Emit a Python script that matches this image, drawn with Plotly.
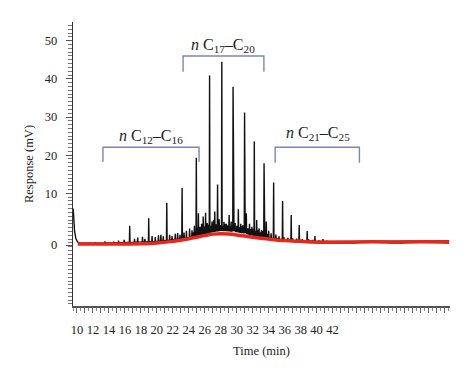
import numpy as np
import plotly.graph_objects as go

# ---------------- data ----------------
# n-alkane peaks (retention time in min, apex response in axis units)
peak_times = [18.98, 21.24, 23.16, 24.94, 26.60, 28.13, 29.54, 30.98, 32.20,
              33.42, 34.62, 35.74, 36.82, 37.82, 38.82, 39.79, 40.79]
peak_heights = [3.45, 7.54, 11.4, 19.3, 40.9, 44.5, 37.9, 31.2, 23.6,
                17.9, 12.8, 8.0, 4.3, 1.7, 0.1, -1.2, -2.0]

# smaller peaks of the unresolved "forest"
minor_times = [11.0, 12.3, 13.5, 14.6, 15.2, 15.9, 16.6, 17.2, 17.6, 18.2, 18.5,
               19.4, 19.8, 20.2, 20.5, 20.8, 21.6, 21.9, 22.3, 22.6, 22.9, 23.4,
               23.7, 24.1, 24.4, 24.7, 25.2, 25.4, 25.6, 25.8, 26.1, 26.3, 26.9,
               27.1, 27.25, 27.6, 27.8, 28.4, 28.7, 29.05, 29.3, 29.8, 30.2, 30.5,
               30.75, 31.2, 31.6, 31.9, 32.5, 32.8, 33.1, 33.7, 34.0, 34.3, 34.9,
               35.3, 35.9, 36.4, 37.0, 37.5, 38.2, 39.0, 39.5, 40.3, 41.3, 42.0,
               43.1, 44.0,
               24.55, 25.05, 25.95, 26.45, 26.75, 27.4, 27.95, 28.3, 28.55,
               28.9, 29.2, 29.45, 29.7, 30.0, 30.35, 30.65, 30.9, 31.1, 31.4,
               31.75, 32.05, 32.35, 32.65, 33.0, 33.25, 33.55, 33.9]
minor_heights = [-2.9, -2.8, -2.6, -2.7, -2.4, -2.2, 1.5, -1.9, -1.6, -1.4, -1.9,
                 -1.2, -1.5, -1.0, -0.9, -1.3, -0.9, -1.2, -0.6, -0.4, -0.9, -0.3,
                 0.2, 0.8, 0.3, 1.5, 4.8, 1.2, 2.0, 3.9, 4.9, 2.2, 2.6,
                 3.0, 5.2, 12.3, 3.2, 2.5, 2.0, 4.3, 2.6, 2.2, 5.8, 2.0,
                 1.6, 4.8, 2.0, 1.2, 3.0, 0.8, 0.4, 2.6, 0.2, -0.5, -0.8,
                 -1.3, -1.5, -1.7, -1.8, -1.9, -2.0, -2.1, -2.2, -2.4, -2.5, -2.6,
                 -2.7, -2.7,
                 -0.2, 1.0, 1.3, 1.8, 1.5, 1.9, 1.7, 1.4, 2.0,
                 1.6, 1.2, 1.7, 1.3, 1.5, 1.1, 1.4, 0.9, 1.2, 0.8,
                 0.6, 0.7, 0.2, 0.4, -0.2, 0.1, -0.5, -0.6]

# solvent tail at the start of the run
solvent_t = [9.52, 9.60, 9.70, 9.85, 10.05]
solvent_v = [6.0, 2.5, 0.0, -1.8, -2.7]

# black trace baseline (with hump)
base_t = [10.4, 14, 18, 20, 22, 24, 25, 26, 27, 28, 29, 30, 31, 32, 33, 34,
          36, 38, 40, 44, 50, 56.6]
base_v = [-3.1, -3.0, -2.8, -2.6, -2.2, -1.6, -1.1, -0.5, 0.0, 0.3, 0.2, 0.0,
          -0.4, -0.9, -1.3, -1.7, -2.2, -2.5, -2.6, -2.6, -2.5, -2.5]

# red (second) trace
red_t = [10.1, 14, 18, 20, 22, 24, 26, 27, 28, 29, 30, 32, 34, 36, 38, 40,
         44, 47, 50, 53, 56.6]
red_v = [-3.3, -3.3, -3.2, -3.0, -2.6, -1.9, -1.1, -0.7, -0.6, -0.7, -0.9,
         -1.5, -2.0, -2.4, -2.6, -2.8, -2.8, -2.7, -2.8, -2.7, -2.8]

# y tick positions / labels
y_tickvals = [-3.55, 10, 20, 30, 40, 50]
y_ticktext = ["0", "10", "20", "30", "40", "50"]
x_tickvals = list(range(10, 57))
x_ticktext = [str(v) if (v % 2 == 0 and v <= 42) else "" for v in x_tickvals]

# carbon-range brackets: label, start, end (min), top level, end level, label x, label y
brackets = [
    ("<i>n</i> C<sub>12</sub>–C<sub>16</sub>", 13.25, 25.28, 22.06, 18.28, 19.3, 24.8),
    ("<i>n</i> C<sub>17</sub>–C<sub>20</sub>", 23.28, 33.40, 45.99, 41.87, 28.3, 48.8),
    ("<i>n</i> C<sub>21</sub>–C<sub>25</sub>", 34.81, 45.36, 22.06, 18.00, 40.2, 25.6),
]

# ---------------- build the black chromatogram ----------------
hw = 0.04
pts = list(zip(base_t, base_v))
for t, h in list(zip(peak_times, peak_heights)) + list(zip(minor_times, minor_heights)):
    b = float(np.interp(t, base_t, base_v))
    pts += [(t - hw, b), (t, max(h, b)), (t + hw, b)]
pts.sort(key=lambda p: p[0])
bx = solvent_t + [p[0] for p in pts]
by = solvent_v + [p[1] for p in pts]

fig = go.Figure()
fig.add_trace(go.Scatter(x=bx, y=by, mode="lines",
                         line=dict(color="#111111", width=1.4),
                         hoverinfo="skip", showlegend=False))
fig.add_trace(go.Scatter(x=red_t, y=red_v, mode="lines",
                         line=dict(color="#e8261c", width=3.5, shape="spline"),
                         hoverinfo="skip", showlegend=False))

for label, x0, x1, ytop, yend, lx, ly in brackets:
    fig.add_trace(go.Scatter(x=[x0, x0, x1, x1], y=[yend, ytop, ytop, yend],
                             mode="lines",
                             line=dict(color="#7b86b6", width=1.4),
                             hoverinfo="skip", showlegend=False))
    fig.add_annotation(x=lx, y=ly, text=label, showarrow=False,
                       xanchor="center", yanchor="middle",
                       font=dict(family="Liberation Serif", size=16, color="#222222"))

serif = "Liberation Serif"
fig.update_layout(
    width=466, height=370,
    margin=dict(l=65, r=24, t=14, b=72),
    paper_bgcolor="white", plot_bgcolor="white",
    font=dict(family=serif, size=12, color="#222222"),
    xaxis=dict(range=[9.5, 56.7], showgrid=False, zeroline=False,
               showline=True, linecolor="#555555", linewidth=1.5,
               ticks="outside", ticklen=5, tickwidth=1, tickcolor="#666666",
               tickmode="array", tickvals=x_tickvals, ticktext=x_ticktext,
               ticklabelstandoff=6,
               minor=dict(tickmode="linear", tick0=0, dtick=0.5, ticks="outside",
                          ticklen=3, tickcolor="#888888"),
               tickfont=dict(family=serif, size=12.5, color="#222222"),
               title=dict(text="Time (min)", standoff=10,
                          font=dict(family=serif, size=12.5, color="#222222"))),
    yaxis=dict(range=[-19.54, 54.9], showgrid=False, zeroline=False,
               showline=True, linecolor="#333333", linewidth=1.3,
               ticks="outside", ticklen=6, tickwidth=1, tickcolor="#555555",
               tickmode="array", tickvals=y_tickvals, ticktext=y_ticktext,
               ticklabelstandoff=6,
               minor=dict(tickmode="linear", tick0=0, dtick=1, ticks="outside",
                          ticklen=4, tickcolor="#777777"),
               tickfont=dict(family=serif, size=12.5, color="#222222"),
               title=dict(text="Response (mV)", standoff=8,
                          font=dict(family=serif, size=12.5, color="#222222"))),
)

fig.write_html("out.html")
